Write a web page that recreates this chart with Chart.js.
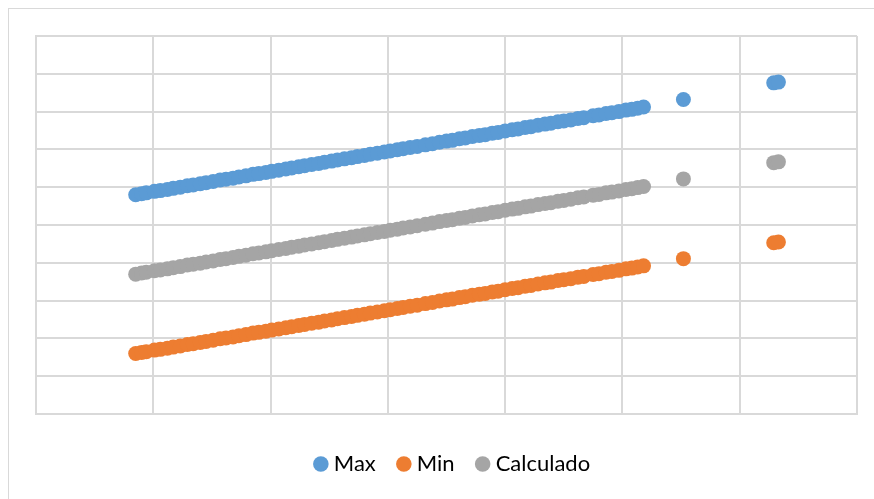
<!DOCTYPE html>
<html>
<head>
<meta charset="utf-8">
<script src="https://cdn.jsdelivr.net/npm/chart.js@4/dist/chart.umd.min.js"></script>
<style>
  html, body { margin: 0; padding: 0; background: #ffffff; overflow: hidden; }
  #frame { position: absolute; left: 8px; top: 8px; width: 920px; height: 560px;
           border: 1px solid #d9d9d9; box-sizing: border-box; }
  #wrap { position: absolute; left: 0; top: 0; width: 874px; height: 499px; }
</style>
</head>
<body>
<div id="frame"></div>
<div id="wrap"><canvas id="chart" width="874" height="499"></canvas></div>
<script>
// Shared x positions of the measurements
const xValues = [
  8.5, 9.0, 9.4, 10.1, 10.6, 11.2, 11.7, 12.3, 12.9, 13.4,
  14.0, 14.5, 15.1, 15.7, 16.2, 16.8, 17.3, 17.9, 18.5, 19.0,
  19.6, 20.1, 20.7, 21.3, 21.8, 22.4, 22.9, 23.5, 24.1, 24.6,
  25.2, 25.7, 26.3, 26.9, 27.4, 28.0, 28.5, 29.1, 29.7, 30.2,
  30.8, 31.3, 31.9, 32.5, 33.2, 33.8, 34.4, 35.0, 35.5, 36.1,
  36.6, 37.2, 37.8, 38.3, 38.9, 39.4, 40.0, 40.6, 41.1, 41.7,
  42.2, 42.8, 43.4, 43.9, 44.5, 45.0, 45.6, 46.2, 46.7, 47.5,
  48.0, 48.6, 49.1, 49.7, 50.3, 50.8, 51.3, 51.8,
  55.2, 62.9, 63.3
];

const maxValues = [
  58.0, 58.3, 58.5, 58.9, 59.1, 59.4, 59.7, 60.0, 60.4, 60.6,
  60.9, 61.2, 61.5, 61.9, 62.1, 62.4, 62.7, 63.0, 63.4, 63.6,
  63.9, 64.2, 64.5, 64.8, 65.1, 65.4, 65.7, 66.0, 66.3, 66.6,
  66.9, 67.2, 67.5, 67.8, 68.1, 68.4, 68.7, 69.0, 69.3, 69.6,
  69.9, 70.2, 70.5, 70.8, 71.2, 71.5, 71.9, 72.2, 72.4, 72.8,
  73.0, 73.4, 73.7, 73.9, 74.3, 74.5, 74.9, 75.2, 75.4, 75.8,
  76.0, 76.4, 76.7, 76.9, 77.3, 77.5, 77.8, 78.2, 78.4, 78.9,
  79.1, 79.5, 79.7, 80.0, 80.4, 80.6, 80.9, 81.2,
  83.2, 87.6, 87.8
];

const minValues = [
  16.0, 16.3, 16.5, 16.9, 17.1, 17.4, 17.7, 18.0, 18.4, 18.6,
  18.9, 19.2, 19.5, 19.9, 20.1, 20.4, 20.7, 21.0, 21.4, 21.6,
  21.9, 22.2, 22.5, 22.8, 23.1, 23.4, 23.7, 24.0, 24.3, 24.6,
  24.9, 25.2, 25.5, 25.8, 26.1, 26.4, 26.7, 27.0, 27.3, 27.6,
  27.9, 28.2, 28.5, 28.8, 29.2, 29.5, 29.9, 30.2, 30.4, 30.8,
  31.0, 31.4, 31.7, 31.9, 32.3, 32.5, 32.9, 33.2, 33.4, 33.8,
  34.0, 34.4, 34.7, 34.9, 35.3, 35.5, 35.8, 36.2, 36.4, 36.9,
  37.1, 37.5, 37.7, 38.0, 38.4, 38.6, 38.9, 39.2,
  41.1, 45.3, 45.5
];

const calcValues = [
  37.0, 37.3, 37.5, 37.9, 38.1, 38.4, 38.7, 39.0, 39.4, 39.6,
  39.9, 40.2, 40.5, 40.9, 41.1, 41.4, 41.7, 42.0, 42.4, 42.6,
  42.9, 43.2, 43.5, 43.8, 44.1, 44.4, 44.7, 45.0, 45.3, 45.6,
  45.9, 46.2, 46.5, 46.8, 47.1, 47.4, 47.7, 48.0, 48.3, 48.6,
  48.9, 49.2, 49.5, 49.8, 50.2, 50.5, 50.9, 51.2, 51.4, 51.8,
  52.0, 52.4, 52.7, 52.9, 53.3, 53.5, 53.9, 54.2, 54.4, 54.8,
  55.0, 55.4, 55.7, 55.9, 56.3, 56.5, 56.8, 57.2, 57.4, 57.9,
  58.1, 58.5, 58.7, 59.0, 59.4, 59.6, 59.9, 60.2,
  62.2, 66.5, 66.7
];

const seriesNames = ['Max', 'Min', 'Calculado'];
const seriesColors = ['#5B9BD5', '#ED7D31', '#A5A5A5'];

const toPoints = ys => xValues.map((x, i) => ({ x: x, y: ys[i] }));

const gridColor = '#d9d9d9';

// Nudges the legend row a little to the right of the default centre
const legendOffset = {
  id: 'legendOffset',
  afterLayout(chart) {
    const lg = chart.legend;
    if (lg) { lg.left += 8; lg.right += 8; }
  }
};

new Chart(document.getElementById('chart'), {
  type: 'scatter',
  data: {
    datasets: [maxValues, minValues, calcValues].map((ys, i) => ({
      label: seriesNames[i],
      data: toPoints(ys),
      backgroundColor: seriesColors[i],
      borderColor: seriesColors[i],
      borderWidth: 0,
      pointRadius: 7.5,
      pointHoverRadius: 7.5,
      pointStyle: 'circle'
    }))
  },
  options: {
    responsive: false,
    animation: false,
    devicePixelRatio: 1,
    layout: { padding: { left: 36, top: 36, right: 17, bottom: 14 } },
    scales: {
      x: {
        type: 'linear', min: 0, max: 70,
        ticks: { display: false, stepSize: 10 },
        grid: { color: gridColor, lineWidth: 2, drawTicks: false },
        border: { display: true, color: gridColor, width: 2 },
        // blank title keeps a gap between the plot and the legend
        title: { display: true, text: ' ', color: 'rgba(0,0,0,0)',
                 font: { size: 12, lineHeight: 1 }, padding: { top: 1, bottom: 0 } }
      },
      y: {
        type: 'linear', min: 0, max: 100,
        ticks: { display: false, stepSize: 10 },
        grid: { color: gridColor, lineWidth: 2, drawTicks: false },
        border: { display: true, color: gridColor, width: 2 }
      }
    },
    plugins: {
      tooltip: { enabled: false },
      legend: {
        position: 'bottom',
        labels: {
          usePointStyle: true,
          boxWidth: 4,
          boxHeight: 11,
          padding: 26,
          color: '#000000',
          font: { family: 'Lato', size: 22 }
        }
      }
    }
  },
  plugins: [legendOffset]
});
</script>
</body>
</html>
